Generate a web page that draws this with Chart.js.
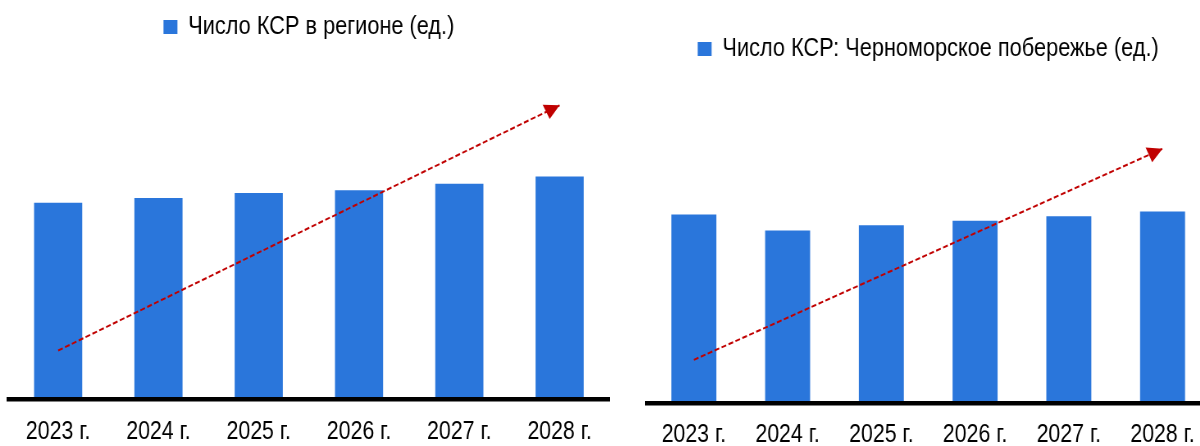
<!DOCTYPE html>
<html lang="ru">
<head>
<meta charset="utf-8">
<title>Число КСР</title>
<script src="https://cdn.jsdelivr.net/npm/chart.js@4.4.1/dist/chart.umd.min.js"></script>
<style>
  html, body { margin: 0; padding: 0; background: #fff; overflow: hidden; width: 1200px; height: 446px; }
  /* panels are laid out wide and squeezed horizontally so Liberation Sans reads like a narrow face */
  .panel { position: absolute; top: 0; height: 470px; transform: scaleX(0.82); transform-origin: 0 0; }
  #regionPanel { left: 0; width: 768px; }
  #coastPanel { left: 640px; width: 720px; }
</style>
</head>
<body>
<div class="panel" id="regionPanel"><canvas id="regionChart"></canvas></div>
<div class="panel" id="coastPanel"><canvas id="coastChart"></canvas></div>
<script>
// Two bar charts: number of collective accommodation facilities (КСР)
// in the region and on the Black Sea coast, 2023–2028, each with a
// dashed red growth arrow.
const years = ['2023 г.', '2024 г.', '2025 г.', '2026 г.', '2027 г.', '2028 г.'];

const regionLabel = 'Число КСР в регионе (ед.)';
const regionCounts = [2010, 2060, 2110, 2140, 2205, 2280];
const regionTrend = [495, null, null, null, null, 3010];
const regionMax = 3575;

const coastLabel = 'Число КСР: Черноморское побережье (ед.)';
const coastCounts = [583, 534, 550, 564, 578, 593];
const coastTrend = [133, null, null, null, null, 787];
const coastMax = 1024;

const SQUEEZE = 0.82; // must match the CSS scaleX above
const BAR_BLUE = '#2a76db';
const ARROW_RED = '#c00000';
const FONT = "'Liberation Sans', Arial, sans-serif";

// arrowhead at the last point of any dataset flagged with `arrowHead`,
// drawn in on-screen proportions so the squeeze doesn't distort it
const arrowHeads = {
  id: 'arrowHeads',
  afterDatasetsDraw(chart) {
    const ctx = chart.ctx;
    chart.data.datasets.forEach((ds, i) => {
      if (!ds.arrowHead) return;
      const pts = chart.getDatasetMeta(i).data.filter((p) => !p.skip);
      if (pts.length < 2) return;
      const a = pts[0], b = pts[pts.length - 1];
      const ang = Math.atan2(b.y - a.y, (b.x - a.x) * SQUEEZE);
      const len = 15, half = 8;
      ctx.save();
      ctx.scale(1 / SQUEEZE, 1);
      ctx.translate(b.x * SQUEEZE, b.y);
      ctx.rotate(ang);
      ctx.fillStyle = ds.borderColor;
      ctx.beginPath();
      ctx.moveTo(0, 0);
      ctx.lineTo(-len, -half);
      ctx.lineTo(-len, half);
      ctx.closePath();
      ctx.fill();
      ctx.restore();
    });
  },
};

function drawChart(canvasId, label, counts, trend, yMax, pad, tickLen) {
  return new Chart(document.getElementById(canvasId), {
    type: 'bar',
    data: {
      labels: years,
      datasets: [
        {
          label, data: counts, backgroundColor: BAR_BLUE,
          categoryPercentage: 0.96, barPercentage: 0.5, order: 1,
        },
        {
          type: 'line', label: 'trend', data: trend, spanGaps: true,
          borderColor: ARROW_RED, borderWidth: 2, borderDash: [6, 3],
          pointRadius: 0, tension: 0, fill: false, order: 0, arrowHead: true,
        },
      ],
    },
    options: {
      responsive: true, maintainAspectRatio: false, animation: false,
      layout: {
        padding: { left: pad.left / SQUEEZE, right: pad.right / SQUEEZE, top: pad.top, bottom: pad.bottom },
      },
      plugins: {
        tooltip: { enabled: false },
        legend: {
          position: 'top',
          labels: {
            filter: (item) => item.datasetIndex === 0,
            boxWidth: 17, boxHeight: 14, padding: 6.25,
            color: '#000', font: { family: FONT, size: 26.5 },
          },
        },
      },
      scales: {
        x: {
          grid: { display: false, drawTicks: true, tickLength: tickLen },
          border: { display: true, color: '#000', width: 4.5, z: 1 },
          ticks: { padding: 0, color: '#000', font: { family: FONT, size: 26 }, maxRotation: 0, autoSkip: false },
        },
        y: { display: false, min: 0, max: yMax },
      },
    },
    plugins: [arrowHeads],
  });
}

drawChart('regionChart', regionLabel, regionCounts, regionTrend, regionMax,
  { left: 8, right: 20, top: 7.5, bottom: 23 }, 17);
drawChart('coastChart', coastLabel, coastCounts, coastTrend, coastMax,
  { left: 7, right: 21, top: 29.5, bottom: 20 }, 16);
</script>
</body>
</html>
